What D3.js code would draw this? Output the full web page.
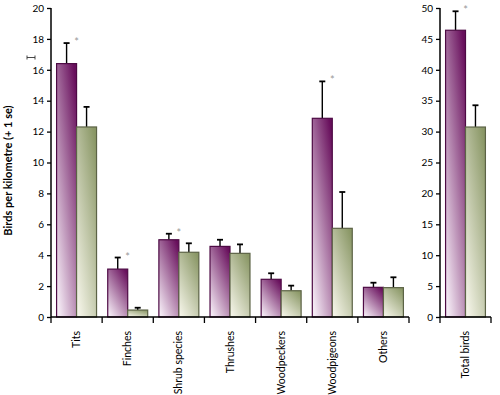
<!DOCTYPE html>
<html>
<head>
<meta charset="utf-8">
<script src="https://cdn.jsdelivr.net/npm/d3@7"></script>
<style>
  html, body { margin: 0; padding: 0; background: #fff; }
  svg { display: block; font-family: Lato, "Open Sans", sans-serif; }
</style>
</head>
<body>
<svg id="chart" width="500" height="395"></svg>
<script>
// ---- data ----
const categories = ["Tits", "Finches", "Shrub species", "Thrushes", "Woodpeckers", "Woodpigeons", "Others"];
const seriesA = [16.4, 3.1, 5.0, 4.57, 2.44, 12.86, 1.92];   // purple
const seriesAErr = [1.33, 0.75, 0.39, 0.43, 0.39, 2.39, 0.3];
const seriesB = [12.3, 0.45, 4.19, 4.12, 1.7, 5.74, 1.9];    // green
const seriesBErr = [1.3, 0.15, 0.58, 0.58, 0.33, 2.35, 0.67];
const sigA = [true, true, true, false, false, true, false];

const totalCategory = ["Total birds"];
const totalA = [46.4];
const totalAErr = [3.07];
const totalB = [30.74];
const totalBErr = [3.52];
const totalSig = [true];

const leftTicks = [0, 2, 4, 6, 8, 10, 12, 14, 16, 18, 20];
const rightTicks = [0, 5, 10, 15, 20, 25, 30, 35, 40, 45, 50];
const yLabel = "Birds per kilometre (+ 1 se)";

// ---- layout ----
const svg = d3.select("#chart");
const y0 = 317, yTop = 8;
const xL = d3.scaleBand().domain(categories).range([51, 409]).paddingInner(0).paddingOuter(0);
const xR = d3.scaleBand().domain(totalCategory).range([440, 491]).paddingInner(0).paddingOuter(0);
const yL = d3.scaleLinear().domain([0, 20]).range([y0, yTop]);
const yR = d3.scaleLinear().domain([0, 50]).range([y0, yTop]);
const inner = d3.scaleBand().domain(["A", "B"]).range([0, xL.bandwidth()]).paddingInner(0).paddingOuter(0.28);

// gradients
const defs = svg.append("defs");
function grad(id, top, bottom) {
  const g = defs.append("linearGradient").attr("id", id)
    .attr("x1", 0.15).attr("y1", 1).attr("x2", 0.85).attr("y2", 0);
  g.append("stop").attr("offset", "0%").attr("stop-color", bottom);
  g.append("stop").attr("offset", "100%").attr("stop-color", top);
}
grad("gA", "#680f5c", "#f4eaf4");
grad("gB", "#8a9766", "#f3f3e6");

const style = {
  A: { fill: "url(#gA)", stroke: "#4d0a44" },
  B: { fill: "url(#gB)", stroke: "#5c6346" }
};

function drawGroup(x, y, cats, a, aErr, b, bErr, sig) {
  const g = svg.append("g");
  const rows = cats.map((c, i) => [
    { c, s: "A", v: a[i], e: aErr[i], sig: sig[i] },
    { c, s: "B", v: b[i], e: bErr[i], sig: false }
  ]).flat();
  const sub = inner.copy().range([0, x.bandwidth()]);
  // error bars (behind bars)
  rows.forEach(d => {
    const cx = x(d.c) + sub(d.s) + sub.bandwidth() / 2;
    g.append("line").attr("x1", cx).attr("x2", cx)
      .attr("y1", y(d.v)).attr("y2", y(d.v + d.e))
      .attr("stroke", "#000").attr("stroke-width", 1.4);
    g.append("line").attr("x1", cx - 3).attr("x2", cx + 3)
      .attr("y1", y(d.v + d.e)).attr("y2", y(d.v + d.e))
      .attr("stroke", "#000").attr("stroke-width", 1.8);
  });
  g.selectAll("rect.bar").data(rows).join("rect")
    .attr("class", "bar")
    .attr("x", d => x(d.c) + sub(d.s))
    .attr("width", sub.bandwidth())
    .attr("y", d => y(d.v))
    .attr("height", d => y(0) - y(d.v))
    .attr("fill", d => style[d.s].fill)
    .attr("stroke", d => style[d.s].stroke)
    .attr("stroke-width", 1.2);
  rows.filter(d => d.sig).forEach(d => {
    g.append("text")
      .attr("x", x(d.c) + sub(d.s) + sub.bandwidth())
      .attr("y", y(d.v + d.e) + 3)
      .attr("text-anchor", "middle")
      .attr("font-size", 11)
      .attr("fill", "#999")
      .text("*");
  });
}

drawGroup(xL, yL, categories, seriesA, seriesAErr, seriesB, seriesBErr, sigA);
drawGroup(xR, yR, totalCategory, totalA, totalAErr, totalB, totalBErr, totalSig);

function yAxis(scale, xpos, ticks) {
  const ax = svg.append("g").attr("transform", `translate(${xpos},0)`)
    .call(d3.axisLeft(scale).tickValues(ticks).tickSize(4).tickPadding(3).tickFormat(d3.format("d")));
  ax.select(".domain").attr("stroke", "#000").attr("stroke-width", 1.5)
    .attr("d", `M0,${scale.range()[0]}V${scale.range()[1]}`);
  ax.selectAll(".tick line").attr("stroke", "#000").attr("stroke-width", 1.3);
  ax.selectAll(".tick text").attr("font-size", 10).attr("fill", "#000")
    .attr("font-family", "Lato, sans-serif");
  return ax;
}
function xAxis(scale) {
  const r = scale.range();
  const g = svg.append("g");
  g.append("line").attr("x1", r[0]).attr("x2", r[1]).attr("y1", y0).attr("y2", y0)
    .attr("stroke", "#000").attr("stroke-width", 1.5);
  const bounds = scale.domain().map(d => scale(d)).concat([r[1]]);
  bounds.forEach(b => {
    g.append("line").attr("x1", b).attr("x2", b).attr("y1", y0).attr("y2", y0 + 6)
      .attr("stroke", "#000").attr("stroke-width", 1.3);
  });
  scale.domain().forEach(c => {
    const cx = scale(c) + scale.bandwidth() / 2;
    g.append("text")
      .attr("transform", `translate(${cx + 3.5},${y0 + 14}) rotate(-90)`)
      .attr("text-anchor", "end")
      .attr("font-size", 10.5)
      .attr("fill", "#000")
      .text(c);
  });
}

xAxis(xL);
xAxis(xR);
yAxis(yL, 51, leftTicks);
yAxis(yR, 440, rightTicks);

// y label
svg.append("text")
  .attr("transform", `translate(12,${(y0 + yTop) / 2 + 8}) rotate(-90)`)
  .attr("text-anchor", "middle")
  .attr("font-size", 11)
  .attr("font-weight", "bold")
  .attr("fill", "#000")
  .text(yLabel);

// small stray bracket mark near the 16 tick
svg.append("path")
  .attr("d", "M27,55.5V59.5M27,57.5H35M35,55.5V59.5")
  .attr("stroke", "#333").attr("stroke-width", 0.9).attr("fill", "none");
</script>
</body>
</html>
